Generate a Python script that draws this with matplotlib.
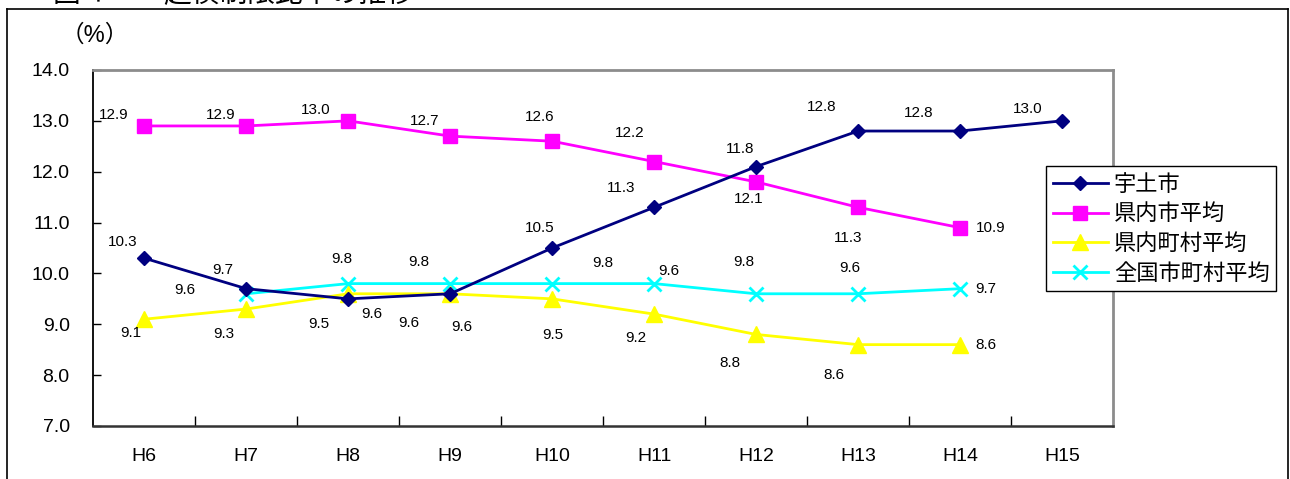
import matplotlib
matplotlib.use("Agg")
import matplotlib.pyplot as plt
from matplotlib.lines import Line2D

# ---- data -------------------------------------------------------------
years = ["H6", "H7", "H8", "H9", "H10", "H11", "H12", "H13", "H14", "H15"]

uto_city = [10.3, 9.7, 9.5, 9.6, 10.5, 11.3, 12.1, 12.8, 12.8, 13.0]
pref_city_avg = [12.9, 12.9, 13.0, 12.7, 12.6, 12.2, 11.8, 11.3, 10.9]
pref_town_avg = [9.1, 9.3, 9.6, 9.6, 9.5, 9.2, 8.8, 8.6, 8.6]
nation_avg = [9.6, 9.8, 9.8, 9.8, 9.8, 9.6, 9.6, 9.7]   # from H7
nation_start = 1

series_names = ["宇土市", "県内市平均", "県内町村平均", "全国市町村平均"]

# label offsets (pixels, from each point) so the value texts do not collide
uto_offsets = [(-22, 16), (-24, 19), (-29, -25), (-41, -29), (-12, 20),
               (-33, 19), (-7, -32), (-36, 24), (-41, 18), (-34, 12)]
pref_city_offsets = [(-31, 11), (-26, 11), (-33, 11), (-26, 15), (-12, 24),
                     (-24, 29), (-16, 33), (-10, -31), (31, 0)]
pref_town_offsets = [(-13, -14), (-22, -25), (24, -20), (12, -33), (1, -36),
                     (-18, -24), (-26, -29), (-24, -30), (26, 0)]
nation_offsets = [(-61, 4), (-6, 25), (-31, 22), (51, 21), (90, 22),
                  (-87, 23), (-8, 26), (26, 0)]

W, H = 1290, 479
fig = plt.figure(figsize=(W / 100, H / 100), dpi=100)
fig.patch.set_facecolor("white")

ax = fig.add_axes([93.3 / W, 1 - 426 / H, (1113 - 93.3) / W, (426 - 70) / H])

x_all = list(range(len(years)))
x_pref = x_all[:len(pref_city_avg)]
x_nat = x_all[nation_start:nation_start + len(nation_avg)]

l1, = ax.plot(x_all, uto_city, color="#000080", lw=2.0, marker="D", ms=7.2,
              mfc="#000080", mec="#000080", zorder=6)
l2, = ax.plot(x_pref, pref_city_avg, color="#FF00FF", lw=2.0, marker="s",
              ms=10, mfc="#FF00FF", mec="#FF00FF", zorder=5)
l3, = ax.plot(x_pref, pref_town_avg, color="#FFFF00", lw=2.0, marker="^",
              ms=11, mfc="#FFFF00", mec="#FFFF00", zorder=4)
l4, = ax.plot(x_nat, nation_avg, color="#00FFFF", lw=2.0, marker="x",
              ms=10.5, mew=2.0, zorder=3)

lab_font = dict(family="Liberation Sans", fontsize=11, color="black")


def put_labels(xs, ys, offs):
    for xi, yi, (dx, dy) in zip(xs, ys, offs):
        ax.annotate(f"{yi:.1f}", (xi, yi), xytext=(dx, dy),
                    textcoords="offset pixels", ha="center", va="center",
                    zorder=8, **lab_font)


put_labels(x_all, uto_city, uto_offsets)
put_labels(x_pref, pref_city_avg, pref_city_offsets)
put_labels(x_pref, pref_town_avg, pref_town_offsets)
put_labels(x_nat, nation_avg, nation_offsets)

# ---- axes styling -----------------------------------------------------
ax.set_xlim(-0.5, len(years) - 0.5)
ax.set_ylim(7, 14)
ax.set_yticks(range(7, 15))
ax.set_yticklabels([f"{v:.1f}" for v in range(7, 15)])
ax.set_xticks(x_all)
ax.set_xticklabels(years)
ax.set_xticks([i + 0.5 for i in range(len(years) - 1)], minor=True)

ax.tick_params(axis="y", which="major", direction="in", length=6, width=1,
               pad=17, labelsize=14, left=True)
ax.tick_params(axis="x", which="major", length=0, pad=16, labelsize=14)
ax.tick_params(axis="x", which="minor", direction="in", length=7, width=1)
for t in ax.get_xticklabels() + ax.get_yticklabels():
    t.set_family("Liberation Sans")

ax.spines["left"].set_color("black")
ax.spines["left"].set_linewidth(1.3)
ax.spines["bottom"].set_color("#333333")
ax.spines["bottom"].set_linewidth(1.8)
for s in ("top", "right"):
    ax.spines[s].set_color("#8c8c8c")
    ax.spines[s].set_linewidth(2.0)

# unit label
fig.text(95 / W, 1 - 36 / H, "（%）", ha="center", va="center", fontsize=17,
         family=["Liberation Sans", "Noto Sans CJK JP"])

# title (runs off the top edge of the frame)
fig.text(53 / W, 1 - 2 / H, "図４　　起債制限比率の推移", ha="left",
         va="baseline", fontsize=20, family=["Noto Sans CJK JP"])

# chart frame
frame_kw = dict(color="black", lw=1.2, transform=fig.transFigure)
fig.add_artist(Line2D([7 / W, 1288 / W], [1 - 9 / H, 1 - 9 / H], **frame_kw))
fig.add_artist(Line2D([7 / W, 7 / W], [0, 1 - 9 / H], **frame_kw))
fig.add_artist(Line2D([1288 / W, 1288 / W], [0, 1 - 9 / H], **frame_kw))

# legend
leg = fig.legend([l1, l2, l3, l4], series_names, loc="upper left",
                 bbox_to_anchor=(1046 / W, 1 - 166 / H), borderaxespad=0,
                 prop={"family": "Noto Sans CJK JP", "size": 16},
                 frameon=True, fancybox=False, framealpha=1,
                 edgecolor="black", handlelength=2.5, handletextpad=0.25,
                 borderpad=0.3, labelspacing=0.3)
leg.get_frame().set_linewidth(1.0)
leg.set_zorder(10)

fig.savefig("out.png", dpi=100, facecolor="white")
